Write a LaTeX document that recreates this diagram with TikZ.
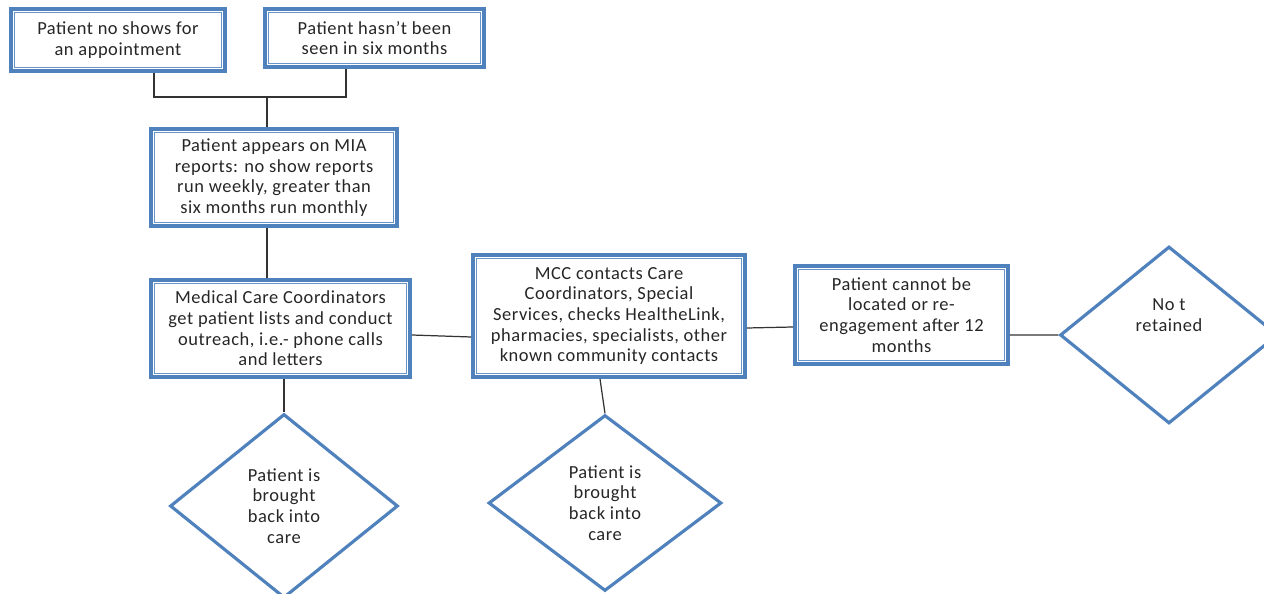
\documentclass[tikz,border=0pt]{standalone}
\usepackage{fontspec}
\setmainfont{Carlito}[LetterSpace=3]
\usetikzlibrary{shapes.geometric}

\definecolor{officeblue}{RGB}{79,129,189}

\begin{document}
\begin{tikzpicture}
    [
        x=0.02cm, y=-0.02cm,
        txt/.style = {align=center, font=\fontsize{10.5}{11.8}\selectfont, text=black!85},
        box/.style = {txt, draw=officeblue, shape=rectangle, line width=2.2pt,
                      append after command={\pgfextra{\draw[officeblue!85, line width=0.5pt]
                          ([shift={(2.9pt,-2.9pt)}]\tikzlastnode.north west) rectangle
                          ([shift={(-2.9pt,2.9pt)}]\tikzlastnode.south east);}}},
        decision/.style = {txt, draw=officeblue, shape=diamond, line width=1.8pt, inner sep=0pt},
        link/.style = {draw=black!80, line width=0.7pt},
    ]

    \useasboundingbox (0,0) rectangle (1264,594);

    \node[box, minimum width=4.28cm, minimum height=1.24cm] (noshow)   at (118,40)    {Patient no shows for\\an appointment};
    \node[box, minimum width=4.38cm, minimum height=1.16cm] (sixmo)    at (374.5,38)  {Patient hasn't been\\seen in six months};
    \node[box, minimum width=4.92cm, minimum height=1.94cm] (mia)      at (274,177.5) {Patient appears on MIA\\reports: no show reports\\run weekly, greater than\\six months run monthly};
    \node[box, minimum width=5.18cm, minimum height=1.94cm] (mcc)      at (280.5,328.5) {Medical Care Coordinators\\get patient lists and conduct\\outreach, i.e.- phone calls\\and letters};
    \node[box, minimum width=5.44cm, minimum height=2.44cm] (contacts) at (609,316)   {MCC contacts Care\\Coordinators, Special\\Services, checks HealtheLink,\\pharmacies, specialists, other\\known community contacts};
    \node[box, minimum width=4.26cm, minimum height=1.96cm] (lost)     at (901.5,315) {Patient cannot be\\located or re-\\engagement after 12\\months};

    \node[decision, minimum width=4.56cm, minimum height=3.68cm] (back1)  at (284,506)  {Patient is\\brought\\back into\\care};
    \node[decision, minimum width=4.66cm, minimum height=3.52cm] (back2)  at (605,503)  {Patient is\\brought\\back into\\care};
    \node[decision, minimum width=4.36cm, minimum height=3.54cm] (notret) at (1169,335) {};
    \node[txt] (notrettxt) at ([yshift=0.4cm]notret.center) {No t\\retained};

    \coordinate (join) at (267,97);

    \draw[link] ([xshift=0.72cm]noshow.south) |- (join) -| ([xshift=-0.57cm]sixmo.south);
    \draw[link] (join) -- (join |- mia.north);
    \draw[link] (mia.south -| join) -- (mcc.north -| join);
    \draw[link] (back1.north |- mcc.south) -- (back1.north);
    \draw[link] ([yshift=-0.13cm]mcc.east) -- ([yshift=-0.42cm]contacts.west);
    \draw[link] ([xshift=-0.18cm]contacts.south) -- (back2.north);
    \draw[link] ([yshift=-0.24cm]contacts.east) -- ([yshift=-0.24cm]lost.west);
    \draw[link] ([yshift=-0.4cm]lost.east) -- (notret.west);
\end{tikzpicture}
\end{document}
